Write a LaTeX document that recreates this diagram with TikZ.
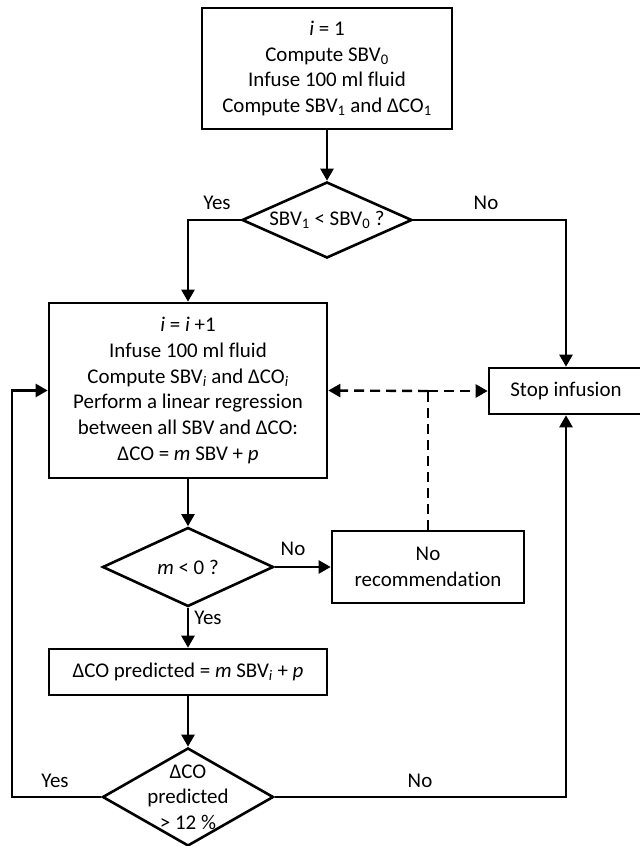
\documentclass[tikz,border=0pt]{standalone}
\usepackage{fontspec}
\setmainfont{Carlito}[Ligatures=NoCommon]
\usetikzlibrary{arrows.meta,shapes.geometric}
\newcommand{\SBV}[1]{SBV\textsubscript{#1}}
\newcommand{\dCO}[1]{ΔCO\textsubscript{#1}}
\tikzset{
  procbox/.style={draw,line width=2.6bp,rectangle,inner sep=0pt,align=center,font=\fontsize{21}{26}\selectfont},
  decision/.style={draw,line width=2.6bp,diamond,inner sep=0pt},
  flowlabel/.style={draw=none,font=\fontsize{21}{24}\selectfont},
}
\begin{document}
\begin{tikzpicture}[>={Triangle[length=12bp,width=13bp]},line join=miter,line width=2.4bp]
\useasboundingbox (0bp,0bp) rectangle (640bp,846bp);
%%
\node (node_0) at (327bp,777.5bp) [procbox,minimum width=250bp,minimum height=121bp] {\textit{i} = 1\\Compute \SBV{0}\\Infuse 100 ml fluid\\Compute \SBV{1} and \dCO{1}};
  \node (node_1) at (327bp,626bp) [decision,minimum width=170bp,minimum height=76bp,label={[flowlabel]center:\SBV{1} < \SBV{0} ?}] {};
  \node (node_2) at (188bp,455.5bp) [procbox,minimum width=278bp,minimum height=175bp] {\textit{i} = \textit{i} +1\\Infuse 100 ml fluid\\Compute \SBV{\textit{i}} and \dCO{\textit{i}}\\Perform a linear regression\\between all SBV and ΔCO:\\ΔCO = \textit{m} SBV + \textit{p}};
  \node (node_3) at (566bp,455bp) [procbox,minimum width=154bp,minimum height=46bp] {Stop infusion};
  \node (node_4) at (428bp,279bp) [procbox,minimum width=192bp,minimum height=72bp] {No\\recommendation};
  \node (node_5) at (188bp,279bp) [decision,minimum width=171bp,minimum height=79bp,label={[flowlabel]center:\textit{m} < 0 ?}] {};
  \node (node_6) at (188bp,174bp) [procbox,minimum width=278bp,minimum height=46bp] {ΔCO predicted = \textit{m} \SBV{\textit{i}} + \textit{p}};
  \node (node_7) at (188bp,49bp) [decision,minimum width=171bp,minimum height=98bp,label={[flowlabel,align=center,font=\fontsize{21}{25.5}\selectfont]center:ΔCO\\predicted\\> 12 \%}] {};
%
  \node (node_8) at (217bp,643bp) [flowlabel] {Yes};
  \node (node_9) at (486bp,643bp) [flowlabel] {No};
  \node (node_10) at (293bp,297bp) [flowlabel] {No};
  \node (node_11) at (208bp,228bp) [flowlabel] {Yes};
  \node (node_12) at (55bp,65bp) [flowlabel] {Yes};
  \node (node_13) at (420bp,65bp) [flowlabel] {No};
%
  \coordinate (loop_0) at (12bp,49bp);
  \coordinate (split_0) at (node_4.north |- node_3.west);
  \draw [black,->] (node_0) -- (node_1);
  \draw [black,->] (node_1.west) -| (node_2.north);
  \draw [black,->] (node_1.east) -| (node_3.north);
  \draw [black,->] (node_2) -- (node_5);
  \draw [black,->] (node_5) -- (node_4);
  \draw [black,->] (node_5) -- (node_6);
  \draw [black,->] (node_6) -- (node_7);
  \draw [black,->] (node_7.west) -- (loop_0) |- (node_2.west);
  \draw [black,->] (node_7.east) -| (node_3.south);
  \draw [black,dash pattern=on 10bp off 6bp] (node_4.north) -- (split_0);
  \draw [black,dash pattern=on 10bp off 6bp,->] (split_0) -- (node_2.east);
  \draw [black,dash pattern=on 10bp off 6bp,->] (split_0) -- (node_3.west);
%
\end{tikzpicture}
\end{document}
